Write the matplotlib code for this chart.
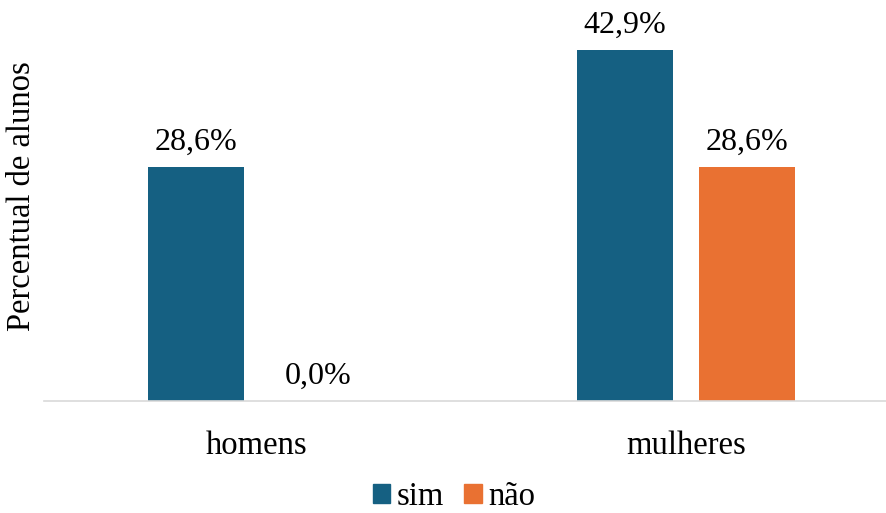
import numpy as np
import matplotlib.pyplot as plt
from matplotlib.patches import Patch

grupos = ['homens', 'mulheres']
sim = [28.6, 42.9]
nao = [0.0, 28.6]
series = ['sim', 'não']
cores = ['#156082', '#E97132']

plt.rcParams['font.family'] = ['Liberation Serif', 'DejaVu Serif']

fig = plt.figure(figsize=(8.87, 5.13), dpi=100)
ax = fig.add_axes([44 / 887, 112 / 513, 843 / 887, 368 / 513])

x = np.arange(len(grupos))
larg = 0.224
desl = 0.142
for i, (vals, cor) in enumerate(zip([sim, nao], cores)):
    pos = x + (desl if i else -desl)
    ax.bar(pos, vals, width=larg, color=cor)
    for p, v in zip(pos, vals):
        ax.text(p, v + 1.3, f'{v:.1f}%'.replace('.', ','), ha='center',
                va='bottom', fontsize=23)

ax.set_xlim(-0.4965, 1.4685)
ax.set_ylim(0, 45)
ax.set_yticks([])
ax.set_xticks(x)
ax.set_xticklabels(grupos, fontsize=23.5)
ax.tick_params(axis='x', length=0, pad=21)
for s in ['top', 'right', 'left']:
    ax.spines[s].set_visible(False)
ax.spines['bottom'].set_color('#D9D9D9')
ax.spines['bottom'].set_linewidth(1.2)

# rotulo do eixo y posicionado na figura
fig.text(22 / 887, 1 - 196 / 513, 'Percentual de alunos', rotation=90,
         ha='center', va='center', fontsize=23.5)

handles = [Patch(color=c, label=s) for c, s in zip(cores, series)]
fig.legend(handles=handles, loc='center', bbox_to_anchor=(454 / 887, 1 - 497 / 513),
           ncol=2, frameon=False, fontsize=23.5, handlelength=0.55, handleheight=0.5,
           handletextpad=0.2, columnspacing=0.6)

fig.savefig('out.png', dpi=100)
